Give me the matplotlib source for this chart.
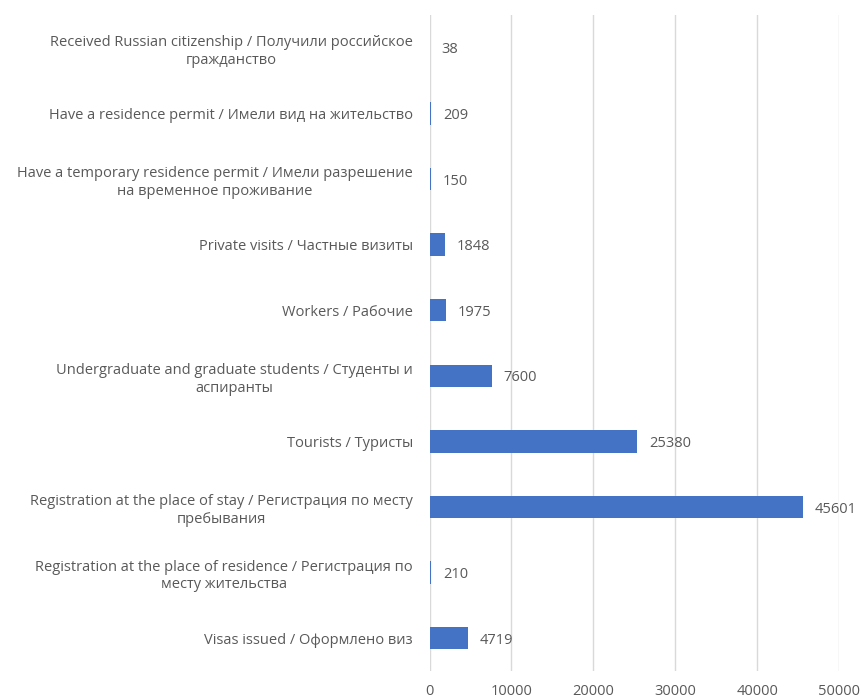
import matplotlib
matplotlib.use("Agg")
import matplotlib.pyplot as plt

categories = [
    "Received Russian citizenship / Получили российское\nгражданство",
    "Have a residence permit / Имели вид на жительство",
    "Have a temporary residence permit / Имели разрешение\nна временное проживание",
    "Private visits / Частные визиты",
    "Workers / Рабочие",
    "Undergraduate and graduate students / Студенты и\nаспиранты",
    "Tourists / Туристы",
    "Registration at the place of stay / Регистрация по месту\nпребывания",
    "Registration at the place of residence / Регистрация по\nместу жительства",
    "Visas issued / Оформлено виз",
]
values = [38, 209, 150, 1848, 1975, 7600, 25380, 45601, 210, 4719]
xticks = [0, 10000, 20000, 30000, 40000, 50000]

fam = ["Open Sans", "DejaVu Sans"]
txt = "#595959"

fig = plt.figure(figsize=(8.62, 6.97), dpi=100)
ax = fig.add_axes([0.4983, 0.0373, 0.4750, 0.9412])

ypos = list(range(len(categories)))
ax.barh(ypos, values, height=0.34, color="#4472C4", zorder=3)
ax.set_ylim(len(categories) - 0.5, -0.5)
ax.set_xlim(0, 50000)
ax.set_xticks(xticks)
ax.set_xticklabels([str(t) for t in xticks], family=fam, fontsize=10.5, color=txt)
ax.set_yticks(ypos)
ax.set_yticklabels(categories, family=fam, fontsize=10.5, color=txt,
                   multialignment="center", linespacing=1.25)
ax.tick_params(axis="y", length=0, pad=12)
ax.tick_params(axis="x", length=0, pad=9)
ax.grid(axis="x", color="#D9D9D9", linewidth=1, zorder=0)
for s in ax.spines.values():
    s.set_visible(False)

for y, v in zip(ypos, values):
    ax.annotate(str(v), xy=(v, y), xytext=(8.5, -1.5), textcoords="offset points",
                va="center", ha="left", family=fam, fontsize=10.5, color=txt, zorder=4)

fig.savefig("out.png", dpi=100)
